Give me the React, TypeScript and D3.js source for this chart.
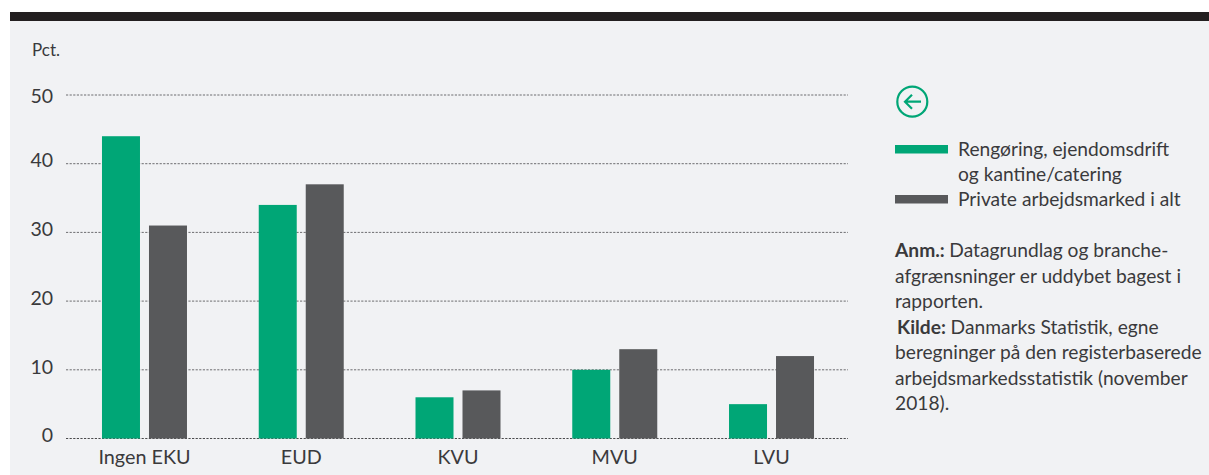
import React, { useEffect, useRef } from 'react';
import * as d3 from 'd3';

const categories = ['Ingen EKU', 'EUD', 'KVU', 'MVU', 'LVU'];
const rengoring = [44, 34, 6, 10, 5];
const privat = [31, 37, 7, 13, 12];
const yTicks = [0, 10, 20, 30, 40, 50];
const legendLabels = [['Rengøring, ejendomsdrift', 'og kantine/catering'], ['Private arbejdsmarked i alt']];
const noteLines = [
  [['Anm.: ', true], ['Datagrundlag og branche-', false]],
  [['afgrænsninger er uddybet bagest i', false]],
  [['rapporten.', false]],
  [['Kilde: ', true], ['Danmarks Statistik, egne', false]],
  [['beregninger på den registerbaserede', false]],
  [['arbejdsmarkedsstatistik (november', false]],
  [['2018).', false]],
] as [string, boolean][][];

const GREEN = '#00a676';
const GREY = '#58595b';
const INK = '#3a3a3c';
const FONT = 'Lato, "Open Sans", sans-serif';

const App = () => {
  const svgRef = useRef<SVGSVGElement>(null);

  useEffect(() => {
    const svg = d3.select(svgRef.current);
    svg.selectAll('*').remove();

    // Background panel and the thick bar on top of it
    svg.append('rect').attr('width', 1209).attr('height', 475).attr('fill', '#fff');
    svg.append('rect').attr('x', 10).attr('y', 21).attr('width', 1199).attr('height', 454).attr('fill', '#f1f2f4');
    svg.append('rect').attr('x', 10).attr('y', 12).attr('width', 1199).attr('height', 9).attr('fill', '#231f20');

    const x = d3.scaleBand().domain(categories).range([66.1, 849.9]);
    const y = d3.scaleLinear().domain([0, 50]).range([438.5, 95]);
    const barWidth = 38;
    const gap = 9;

    // Dotted gridlines, the zero line is a bit darker
    svg.append('g')
      .selectAll('line')
      .data(yTicks)
      .join('line')
      .attr('x1', 66)
      .attr('x2', 848)
      .attr('y1', d => y(d))
      .attr('y2', d => y(d))
      .attr('stroke', d => (d === 0 ? '#4a4a4c' : '#6d6d70'))
      .attr('stroke-width', 1)
      .attr('stroke-dasharray', '2.2 1.4');

    // The top label sits lower against its gridline than the others
    svg.append('g')
      .selectAll('text')
      .data(yTicks)
      .join('text')
      .attr('x', 53)
      .attr('y', d => y(d) + (d === 50 ? 7.5 : 3.7))
      .attr('text-anchor', 'end')
      .attr('font-size', 19.5)
      .attr('font-family', FONT)
      .attr('fill', INK)
      .text(d => d);

    svg.append('text')
      .attr('x', 32)
      .attr('y', 56)
      .attr('font-size', 17)
      .attr('font-family', FONT)
      .attr('fill', INK)
      .text('Pct.');

    // Bars
    const center = (c: string) => x(c)! + x.bandwidth() / 2;
    svg.append('g')
      .selectAll('rect')
      .data(rengoring)
      .join('rect')
      .attr('x', (d, i) => center(categories[i]) - gap / 2 - barWidth)
      .attr('y', d => y(d))
      .attr('width', barWidth)
      .attr('height', d => y(0) - y(d))
      .attr('fill', GREEN);

    svg.append('g')
      .selectAll('rect')
      .data(privat)
      .join('rect')
      .attr('x', (d, i) => center(categories[i]) + gap / 2)
      .attr('y', d => y(d))
      .attr('width', barWidth)
      .attr('height', d => y(0) - y(d))
      .attr('fill', GREY);

    svg.append('g')
      .selectAll('text')
      .data(categories)
      .join('text')
      .attr('x', d => center(d))
      .attr('y', 464)
      .attr('text-anchor', 'middle')
      .attr('font-size', 19.8)
      .attr('font-family', FONT)
      .attr('fill', INK)
      .text(d => d);

    // Arrow icon
    const icon = svg.append('g').attr('fill', 'none').attr('stroke', GREEN).attr('stroke-width', 2.2);
    icon.append('circle').attr('cx', 912.3).attr('cy', 101.7).attr('r', 15);
    icon.append('path').attr('d', 'M905,101.7H921M912,94.7L905,101.7L912,108.7');

    // Legend
    [GREEN, GREY].forEach((color, i) => {
      svg.append('rect')
        .attr('x', 895)
        .attr('y', i === 0 ? 145 : 195)
        .attr('width', 53)
        .attr('height', 8.5)
        .attr('fill', color);
    });
    const legendRows = legendLabels.flat();
    svg.append('g')
      .selectAll('text')
      .data(legendRows)
      .join('text')
      .attr('x', 958)
      .attr('y', (d, i) => 156 + i * 25)
      .attr('font-size', 19.2)
      .attr('font-family', FONT)
      .attr('fill', INK)
      .text(d => d);

    // Notes
    noteLines.forEach((parts, i) => {
      const t = svg.append('text')
        .attr('x', i === 3 ? 897 : 895)
        .attr('y', 257 + i * 25.5)
        .attr('font-size', 19.2)
        .attr('font-family', FONT)
        .attr('fill', INK);
      parts.forEach(([s, bold]) => {
        t.append('tspan').attr('font-weight', bold ? 700 : 400).text(s);
      });
    });
  }, []);

  return <svg ref={svgRef} width={1209} height={475} style={{ position: 'absolute', left: 0, top: 0 }} />;
};

export default App;
